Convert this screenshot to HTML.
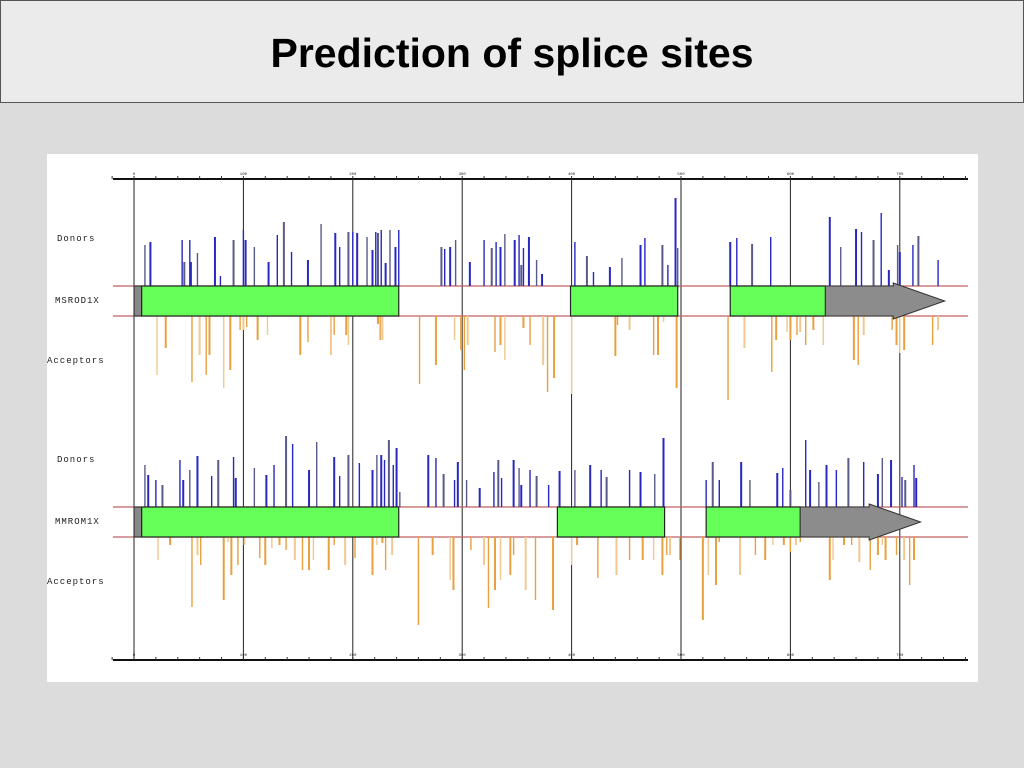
<!DOCTYPE html>
<html><head><meta charset="utf-8"><style>
body{margin:0;width:1024px;height:768px;background:#dcdcdc;overflow:hidden;font-family:"Liberation Sans",sans-serif}
#title{position:absolute;left:0;top:0;width:1022px;height:101px;background:#ebebeb;border:1px solid #555;text-align:center}
#title h1{margin:0;font-size:41px;line-height:104px;font-weight:bold;color:#000}
#panel{position:absolute;left:47px;top:154px;width:931px;height:528px;background:#fff}
</style></head><body>
<div id="title"><h1>Prediction of splice sites</h1></div>
<svg id="chart" width="1024" height="768" style="position:absolute;left:0;top:0">
<rect x="47" y="154" width="931" height="528" fill="#fff"/>
</svg>
<script>
const tickValues=[0,100,200,300,400,500,600,700];
const tickLabels=["0","100","200","300","400","500","600","700"];
const seqNames=["MSROD1X","MMROM1X"];
const d1Pos=[10,15,44,46,51,52,58,74,79,91,100,102,110,123,131,137,144,159,171,184,188,196,200,204,213,218,221,223,226,230,234,239,242,281,284,289,294,307,320,327,331,335,339,348,352,354,356,361,368,373,403,414,420,435,446,463,467,483,488,495,497,545,551,565,582,636,646,660,665,676,683,690,698,700,712,717,735];
const d1Score=[41,44,46,24,46,24,33,49,10,46,56,46,39,24,51,64,34,26,62,53,39,54,54,53,49,36,54,53,56,23,56,39,56,39,37,39,46,24,46,38,44,39,52,46,51,21,38,49,26,12,44,30,14,19,28,41,48,41,21,88,38,44,48,42,49,69,39,57,54,46,73,16,41,34,41,50,26];
const a1Pos=[21,29,53,60,66,69,82,88,97,100,103,113,122,152,159,180,183,194,196,223,225,227,261,276,293,299,302,305,330,335,339,356,362,374,378,384,400,440,442,453,475,479,484,496,543,558,583,587,597,600,606,609,614,621,630,658,662,667,693,697,700,704,730,735];
const a1Score=[59,32,66,39,59,39,72,54,14,14,11,24,19,39,26,39,19,19,29,8,24,24,68,49,24,34,54,29,36,29,44,12,29,49,76,62,78,40,9,14,39,39,6,72,84,32,56,24,16,24,19,16,29,14,29,44,49,19,14,29,37,34,29,14];
const d2Pos=[10,13,20,26,42,45,51,58,71,77,91,93,110,121,128,139,145,160,167,183,188,196,206,218,222,226,229,233,237,240,243,269,276,283,293,296,304,316,329,333,336,347,352,354,362,368,379,389,403,417,427,432,453,463,476,484,523,529,535,555,563,588,593,600,614,618,626,633,642,653,667,680,684,692,702,705,713,715];
const d2Score=[42,32,27,22,47,27,37,51,31,47,50,29,39,32,42,71,63,37,65,50,31,52,44,37,52,52,47,67,42,59,15,52,49,33,27,45,27,19,35,47,29,47,39,22,37,31,22,36,37,42,37,30,37,35,33,69,27,45,27,45,27,34,39,17,67,37,25,42,37,49,45,33,49,47,30,27,42,29];
const a2Pos=[22,33,53,58,61,82,86,89,95,101,115,120,126,133,139,147,154,160,164,178,183,193,202,218,222,227,230,236,260,273,289,292,308,320,324,330,335,344,347,358,367,383,400,405,424,441,453,465,475,483,487,490,499,520,525,532,535,554,568,577,584,594,600,605,609,636,639,649,656,663,673,680,684,687,697,704,709,713];
const a2Score=[23,8,70,18,28,63,5,38,28,8,21,28,11,8,13,23,33,33,23,33,8,28,21,38,8,6,33,18,88,18,43,53,13,28,71,53,43,38,18,53,63,73,28,8,41,38,23,23,23,38,18,18,23,83,38,48,5,38,18,23,8,8,15,8,5,43,23,8,8,25,33,18,8,23,18,23,48,23];
const exons1=[[7,242],[399,497],[545,632]];
const exons2=[[7,242],[387,485],[523,609]];
const utr1=[632,694,741];
const utr2=[609,672,719];

const svg=document.getElementById('chart');
const NS='http://www.w3.org/2000/svg';
const xS=v=>134+v*1.094;
const yS=s=>s*1.0;
function mk(tag,attrs,parent){const e=document.createElementNS(NS,tag);for(const k in attrs)e.setAttribute(k,attrs[k]);(parent||svg).appendChild(e);return e;}

[179,660].forEach((ay,ai)=>{
  const ax=mk('line',{x1:113,x2:968,y1:ay,y2:ay,stroke:'#111','stroke-width':2});
  
  
  for(let v=-20;v<=760;v+=20){
    const t=mk('line',{x1:xS(v),x2:xS(v),y1:ay-3,y2:ay,stroke:'#333','stroke-width':1});
    
    
  }
  tickValues.forEach((v,i)=>{
    const tx=mk('text',{x:xS(v),y:ay-4,'font-size':4,'text-anchor':'middle',fill:'#222','font-family':'Liberation Mono, monospace'});
    tx.textContent=tickLabels[i];
    
    
  });
});
tickValues.forEach(v=>{
  const g=mk('line',{x1:xS(v),x2:xS(v),y1:179,y2:660,stroke:'#222','stroke-width':1});
  
  
});

function panel(top,name,dP,dS,aP,aS,exons,utr){
  const bot=top+30;
  [top,bot].forEach(y=>{
    const r=mk('line',{x1:113,x2:968,y1:y,y2:y,stroke:'#c06060','stroke-width':1.2});
    
    
  });
  dP.forEach((p,i)=>{
    const b=mk('line',{x1:xS(p),x2:xS(p),y1:top,y2:top-yS(dS[i]),stroke:i%3===0?'#5a5a8a':'#2828c0','stroke-width':i%2?2:1.4});
    
    
  });
  aP.forEach((p,i)=>{
    const b=mk('line',{x1:xS(p),x2:xS(p),y1:bot,y2:bot+yS(aS[i]),stroke:i%3===0?'#f0c890':'#e8a040','stroke-width':i%2?2:1.4});
    
    
  });
  const u=mk('rect',{x:xS(0),y:top,width:xS(7)-xS(0),height:30,fill:'#888',stroke:'#222'});
  
  
  exons.forEach(e=>{
    const r=mk('rect',{x:xS(e[0]),y:top,width:xS(e[1])-xS(e[0]),height:30,fill:'#66ff5a',stroke:'#222','stroke-width':1.2});
    
    
  });
  const a=mk('polygon',{points:`${xS(utr[0])},${top} ${xS(utr[1])},${top} ${xS(utr[1])},${top-3} ${xS(utr[2])},${top+15} ${xS(utr[1])},${bot+3} ${xS(utr[1])},${bot} ${xS(utr[0])},${bot}`,fill:'#8c8c8c',stroke:'#333','stroke-width':1});
  
  
  const lbl=[['Donors',57,top-45],[name,55,top+17],['Acceptors',47,top+77]];
  lbl.forEach(l=>{
    const t=mk('text',{x:l[1],y:l[2],'font-size':9,fill:'#222','font-family':'Liberation Mono, monospace','letter-spacing':1});
    t.textContent=l[0];
    
    
  });
}
panel(286,seqNames[0],d1Pos,d1Score,a1Pos,a1Score,exons1,utr1);
panel(507,seqNames[1],d2Pos,d2Score,a2Pos,a2Score,exons2,utr2);
</script>
</body></html>
